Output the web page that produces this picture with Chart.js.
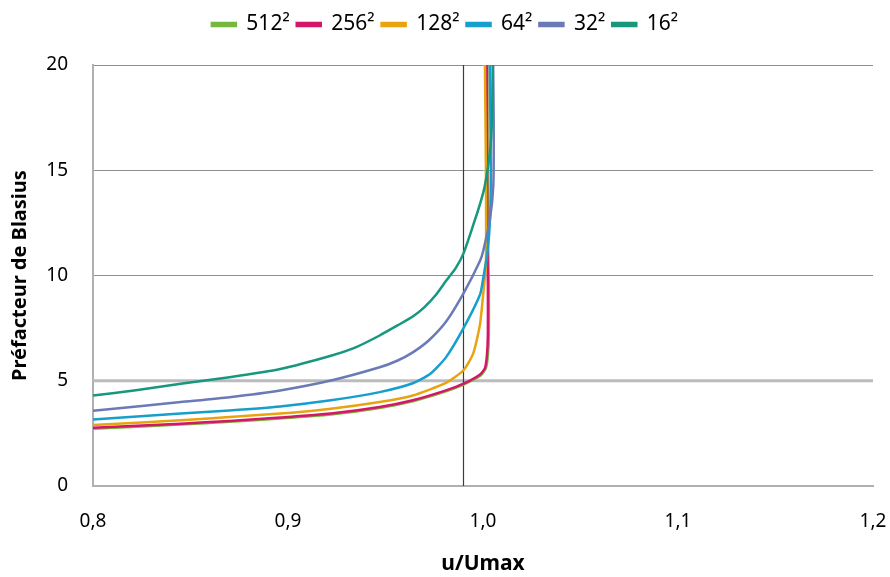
<!DOCTYPE html>
<html>
<head>
<meta charset="utf-8">
<script src="https://cdn.jsdelivr.net/npm/chart.js@4.4.1/dist/chart.umd.min.js"></script>
<style>
  html, body { margin: 0; padding: 0; background: #fff; }
  #wrap { width: 890px; height: 577px; }
</style>
</head>
<body>
<div id="wrap"><canvas id="blasius"></canvas></div>
<script>
// series (u/Umax, préfacteur)
const seriesNames = ["512²", "256²", "128²", "64²", "32²", "16²"];
const seriesColors = ["#76b83c", "#d3166a", "#e8a40e", "#169fcc", "#6a7ab6", "#17977e"];

const u512 = [0.800, 0.845, 0.870, 0.896, 0.922, 0.947, 0.964, 0.981, 0.990, 0.9988, 1.0015, 1.0025, 1.0030, 1.0030, 1.0025, 1.0022];
const v512 = [2.72, 2.92, 3.05, 3.21, 3.40, 3.71, 4.03, 4.50, 4.82, 5.25, 5.60, 6.20, 7.20, 9.60, 12.0, 20.0];

const u256 = [0.800, 0.845, 0.870, 0.896, 0.922, 0.947, 0.964, 0.981, 0.990, 0.9985, 1.0010, 1.0020, 1.0025, 1.0025, 1.0022, 1.0020];
const v256 = [2.77, 2.96, 3.09, 3.25, 3.44, 3.75, 4.07, 4.54, 4.86, 5.30, 5.60, 6.20, 7.20, 9.60, 12.0, 20.0];

const u128 = [0.800, 0.845, 0.870, 0.896, 0.922, 0.947, 0.964, 0.981, 0.990, 0.995, 0.9985, 1.0005, 1.0015, 1.0015, 1.0010];
const v128 = [2.90, 3.12, 3.28, 3.44, 3.67, 3.99, 4.30, 4.90, 5.50, 6.30, 7.70, 9.50, 10.5, 15.0, 20.0];

const u64 = [0.800, 0.845, 0.870, 0.896, 0.922, 0.947, 0.964, 0.973, 0.981, 0.990, 0.9985, 1.0000, 1.0024, 1.0036, 1.0040, 1.0035];
const v64 = [3.16, 3.44, 3.59, 3.78, 4.07, 4.46, 4.88, 5.33, 6.11, 7.50, 9.10, 9.80, 11.2, 12.7, 15.0, 20.0];

const u32 = [0.800, 0.845, 0.870, 0.896, 0.922, 0.947, 0.956, 0.964, 0.972, 0.981, 0.990, 0.9985, 1.0002, 1.0036, 1.0053, 1.0055, 1.0052];
const v32 = [3.57, 3.99, 4.22, 4.54, 5.01, 5.64, 5.95, 6.35, 6.90, 7.80, 9.15, 10.7, 11.2, 12.7, 14.3, 17.0, 20.0];

const u16 = [0.800, 0.822, 0.845, 0.870, 0.896, 0.922, 0.935, 0.947, 0.956, 0.964, 0.970, 0.976, 0.981, 0.986, 0.990, 0.995, 0.9988, 1.0010, 1.0036, 1.0046, 1.0050];
const v16 = [4.30, 4.55, 4.86, 5.17, 5.56, 6.19, 6.60, 7.15, 7.62, 8.05, 8.50, 9.10, 9.74, 10.35, 11.05, 12.4, 13.5, 14.3, 15.9, 17.4, 20.0];

const seriesU = [u512, u256, u128, u64, u32, u16];
const seriesV = [v512, v256, v128, v64, v32, v16];

// reference lines : u/Umax = 0,99 and préfacteur = 5
const refU = [0.99, 0.99];
const refUy = [0, 20];
const refVx = [0.8, 1.2];
const refV = [5, 5];

const xTicks = [0.8, 0.9, 1.0, 1.1, 1.2];
const yTicks = [0, 5, 10, 15, 20];

function toPoints(xs, ys) {
    return xs.map((x, i) => ({ x: x, y: ys[i] }));
}

const datasets = seriesNames.map((name, i) => ({
    label: name,
    data: toPoints(seriesU[i], seriesV[i]),
    borderColor: seriesColors[i],
    backgroundColor: seriesColors[i],
    borderWidth: 2.5,
    pointRadius: 0,
    tension: 0.2,
    fill: false,
    order: seriesNames.length - i
}));

datasets.push({
    label: "ref5",
    data: toPoints(refVx, refV),
    borderColor: "#bcbcbc",
    borderWidth: 3,
    pointRadius: 0,
    order: 20
});
datasets.push({
    label: "ref099",
    data: toPoints(refU, refUy),
    borderColor: "#3c3c3c",
    borderWidth: 1.2,
    pointRadius: 0,
    order: 19
});

const font = "'Noto Sans', 'Open Sans', sans-serif";

// leave room under the legend like the original
const legendGap = {
    id: 'legendGap',
    beforeInit(chart) {
        const fit = chart.legend.fit;
        chart.legend.fit = function () {
            fit.bind(chart.legend)();
            this.height += 20;
        };
    }
};

const config = {
    type: 'line',
    data: { datasets: datasets },
    plugins: [legendGap],
    options: {
        responsive: true,
        maintainAspectRatio: false,
        animation: false,
        layout: { padding: { top: 7, right: 0, left: 0, bottom: 0 } },
        plugins: {
            legend: {
                position: 'top',
                align: 'center',
                labels: {
                    color: '#000',
                    font: { family: font, size: 21 },
                    boxWidth: 24,
                    boxHeight: 3,
                    padding: 7,
                    filter: item => item.datasetIndex < seriesNames.length,
                    sort: (a, b) => a.datasetIndex - b.datasetIndex
                }
            },
            tooltip: { enabled: false }
        },
        scales: {
            x: {
                type: 'linear',
                min: 0.8,
                max: 1.2,
                afterBuildTicks: axis => { axis.ticks = xTicks.map(v => ({ value: v })); },
                ticks: {
                    color: '#000',
                    font: { family: font, size: 19 },
                    padding: 24,
                    callback: v => v.toFixed(1).replace('.', ',')
                },
                grid: { display: false, drawTicks: false },
                border: { color: '#b0b0b0', width: 2 },
                title: {
                    display: true,
                    text: 'u/Umax',
                    color: '#000',
                    font: { family: font, size: 21, weight: 'bold' },
                    padding: { top: 4, bottom: 0 }
                },
                afterFit: axis => {
                    axis.height = 91;
                    axis.paddingLeft = 0;
                    axis.paddingRight = 17;
                }
            },
            y: {
                type: 'linear',
                min: 0,
                max: 20,
                afterBuildTicks: axis => { axis.ticks = yTicks.map(v => ({ value: v })); },
                ticks: {
                    color: '#000',
                    font: { family: font, size: 19 },
                    padding: 25
                },
                grid: { color: '#8f8f8f', lineWidth: 1, drawTicks: false },
                border: { color: '#b0b0b0', width: 2 },
                title: {
                    display: true,
                    text: 'Préfacteur de Blasius',
                    color: '#000',
                    font: { family: font, size: 20, weight: 'bold' },
                    padding: { top: 8, bottom: 0 }
                },
                afterFit: axis => {
                    axis.width = 93;
                    axis.paddingTop = 0;
                    axis.paddingBottom = 0;
                }
            }
        }
    }
};

new Chart(document.getElementById('blasius'), config);
</script>
</body>
</html>
